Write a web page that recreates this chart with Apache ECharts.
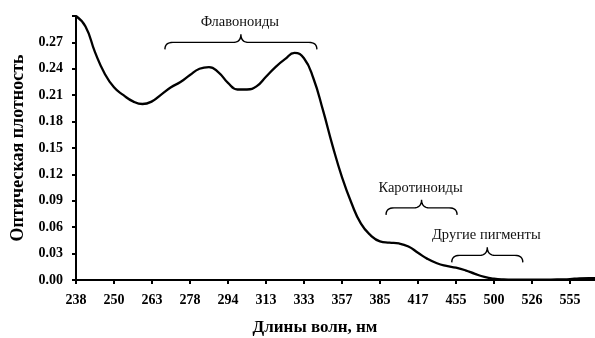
<!DOCTYPE html>
<html><head><meta charset="utf-8">
<script src="https://cdn.jsdelivr.net/npm/echarts@6/dist/echarts.min.js"></script>
<style>html,body{margin:0;padding:0;background:#fff}#c{width:595px;height:338px}</style>
</head><body><div id="c"></div>
<script>
// Wavelength tick labels (evenly spaced positions on the axis)
const tickLabels = ['238','250','263','278','294','313','333','357','385','417','455','500','526','555'];
// Curve samples: position in tick-index units, optical density
const posIdx = [0, 0.25, 0.5, 0.75, 1, 1.25, 1.5, 1.75, 2, 2.25, 2.5, 2.75, 3, 3.25, 3.5, 3.75, 4, 4.25, 4.5, 4.75, 5, 5.25, 5.5, 5.75, 6, 6.25, 6.5, 6.75, 7, 7.25, 7.5, 7.75, 8, 8.25, 8.5, 8.75, 9, 9.25, 9.5, 9.75, 10, 10.25, 10.5, 10.75, 11, 11.25, 11.5, 11.75, 12, 12.25, 12.5, 12.75, 13, 13.25, 13.5, 13.66];
const absorb = [0.300, 0.288, 0.259, 0.235, 0.219, 0.210, 0.203, 0.200, 0.203, 0.211, 0.219, 0.225, 0.233, 0.240, 0.242, 0.236, 0.224, 0.2165, 0.2165, 0.220, 0.231, 0.242, 0.251, 0.258, 0.252, 0.229, 0.193, 0.153, 0.117, 0.0875, 0.064, 0.051, 0.044, 0.0425, 0.0415, 0.038, 0.031, 0.024, 0.019, 0.016, 0.014, 0.011, 0.007, 0.0035, 0.0015, 0.0007, 0.0005, 0.0005, 0.0005, 0.0005, 0.0005, 0.0007, 0.001, 0.0018, 0.002, 0.002];
// Annotation braces
const annoLabels = ['Флавоноиды', 'Каротиноиды', 'Другие пигменты'];
const annoStart = [2.34, 8.16, 9.89];
const annoEnd = [6.34, 10.03, 11.76];
const annoLevel = [0.270, 0.082, 0.028];

const chart = echarts.init(document.getElementById('c'), null, {renderer: 'canvas'});
const serif = '"Liberation Serif","Times New Roman",serif';
const tickIdx = tickLabels.map((_, i) => i);
chart.setOption({
  animation: false,
  backgroundColor: '#fff',
  grid: {left: 76, right: 0, top: 16, bottom: 58, containLabel: false},
  xAxis: {
    type: 'value', min: 0, max: 13.66,
    axisLine: {lineStyle: {color: '#000', width: 2}},
    axisTick: {customValues: tickIdx, length: 4, lineStyle: {color: '#000', width: 2}},
    axisLabel: {customValues: tickIdx, margin: 13, color: '#000', fontFamily: serif, fontWeight: 'bold', fontSize: 14,
      formatter: v => tickLabels[Math.round(v)] || ''},
    splitLine: {show: false}
  },
  yAxis: {
    type: 'value', min: 0, max: 0.30, interval: 0.03,
    name: 'Оптическая плотность', nameLocation: 'middle', nameGap: 43,
    nameTextStyle: {color: '#000', fontFamily: serif, fontWeight: 'bold', fontSize: 18},
    axisLine: {show: true, lineStyle: {color: '#000', width: 2}},
    axisTick: {show: true, length: 4, lineStyle: {color: '#000', width: 2}},
    axisLabel: {margin: 13, color: '#000', fontFamily: serif, fontWeight: 'bold', fontSize: 14,
      formatter: v => v > 0.295 ? '' : v.toFixed(2)},
    splitLine: {show: false}
  },
  series: [{
    type: 'line', smooth: 0.5, symbol: 'none', clip: false,
    lineStyle: {color: '#000', width: 2.3},
    data: posIdx.map((x, i) => [x, absorb[i]])
  }]
});

function quad(p0, c, p1, n) {
  const out = [];
  for (let k = 0; k <= n; k++) {
    const t = k / n, u = 1 - t;
    out.push([u*u*p0[0] + 2*u*t*c[0] + t*t*p1[0], u*u*p0[1] + 2*u*t*c[1] + t*t*p1[1]]);
  }
  return out;
}
const g = [];
annoLabels.forEach((lab, i) => {
  const p1 = chart.convertToPixel({gridIndex: 0}, [annoStart[i], annoLevel[i]]);
  const p2 = chart.convertToPixel({gridIndex: 0}, [annoEnd[i], annoLevel[i]]);
  const x1 = p1[0], x2 = p2[0], y = p1[1], xm = (x1 + x2) / 2;
  const h = 7, r = 8, pk = 8;
  let pts = [];
  pts = pts.concat(quad([x1, y + h], [x1, y], [x1 + r, y], 8));
  pts = pts.concat(quad([xm - r, y], [xm, y], [xm, y - pk], 8));
  pts = pts.concat(quad([xm, y - pk], [xm, y], [xm + r, y], 8));
  pts = pts.concat(quad([x2 - r, y], [x2, y], [x2, y + h], 8));
  g.push({type: 'polyline', shape: {points: pts}, style: {fill: null, stroke: '#000', lineWidth: 1.4}, silent: true});
  g.push({type: 'text', x: xm - 1, y: y - pk - 12, style: {text: lab, fill: '#111', font: '14.5px ' + serif, textAlign: 'center', textVerticalAlign: 'middle'}, silent: true});
});
g.push({type: 'text', x: 315, y: 328, style: {text: 'Длины волн, нм', fill: '#000', font: 'bold 17px ' + serif, textAlign: 'center', textVerticalAlign: 'middle'}, silent: true});
chart.setOption({graphic: g});
</script></body></html>
